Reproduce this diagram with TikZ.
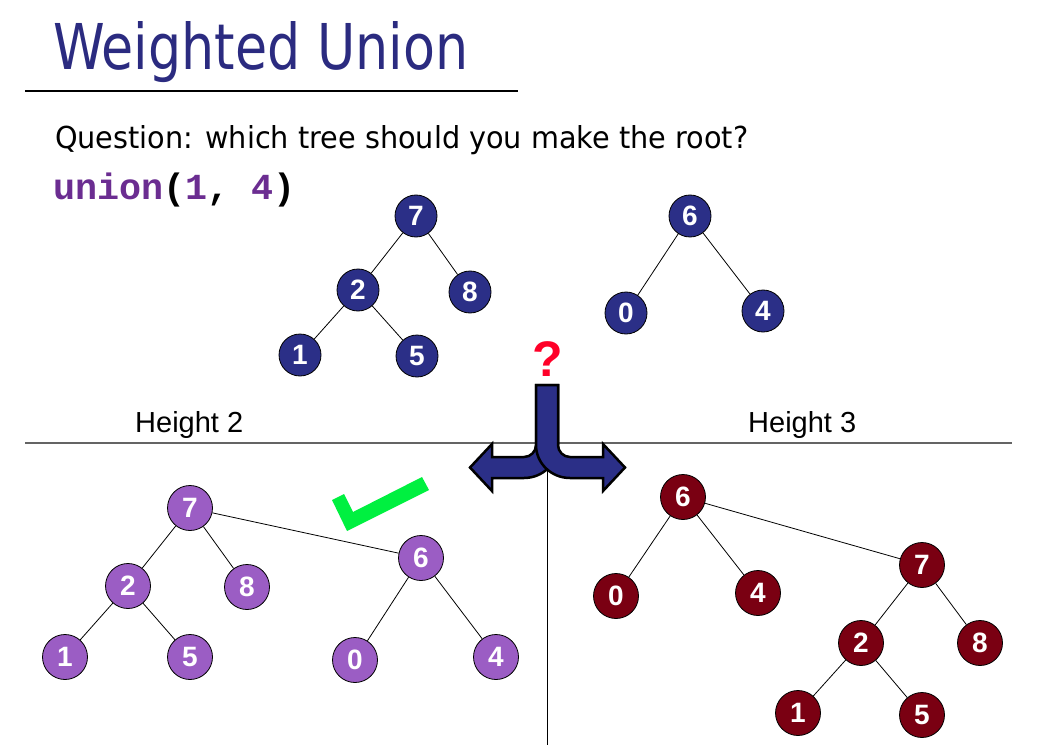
\documentclass[tikz,border=0pt]{standalone}
\usepackage{fontspec}
\setmainfont{Liberation Sans}
\newfontfamily\tahoma{DejaVu Sans}
\newfontfamily\monof{Liberation Mono}
\definecolor{navy}{RGB}{43,47,135}
\definecolor{titlenavy}{RGB}{43,43,128}
\definecolor{lilac}{RGB}{155,93,196}
\definecolor{maroon}{RGB}{122,0,18}
\definecolor{unionpurple}{RGB}{107,45,145}
\definecolor{checkgreen}{RGB}{0,240,64}
\definecolor{qred}{RGB}{255,0,40}
\definecolor{rulegray}{RGB}{100,100,100}
\tikzset{
  tnode/.style={circle,draw=black,line width=0.8pt,inner sep=0pt,minimum size=#1,
    text=white,font=\fontsize{28}{30}\selectfont\bfseries},
  topnode/.style={tnode=42pt,fill=navy},
  purplenode/.style={tnode=45pt,fill=lilac},
  rednode/.style={tnode=45pt,fill=maroon},
  edge/.style={draw=black,line width=0.8pt},
  bigarrow/.style={fill=navy,draw=black,line width=2.5pt,line join=miter}
}
\begin{document}
\begin{tikzpicture}[x=1pt,y=-1pt]
\useasboundingbox (0,0) rectangle (1048,751);
% title
\node[anchor=base west,inner sep=0pt,text=titlenavy] (title) at (53,70)
  {\resizebox{415pt}{48pt}{\tahoma Weighted Union}};
\draw[line width=1.5pt] (25,91) -- (518,91);
\node[anchor=base west,inner sep=0pt] (question) at (55,149)
  {\resizebox{693pt}{23pt}{\tahoma Question: which tree should you make the root?}};
\node[anchor=base west,inner sep=0pt,font=\monof\bfseries\fontsize{36.7}{40}\selectfont] (union) at (53,200)
  {\textcolor{unionpurple}{union}(\textcolor{unionpurple}{1}, \textcolor{unionpurple}{4})};
% separators
\draw[rulegray,line width=1.3pt] (25,443) -- (1012,443);
\coordinate (vtop) at (547,470);
\coordinate (vbot) at (547,745);
\draw[black,line width=1pt] (vtop) -- (vbot);
\node[anchor=base west,inner sep=0pt,font=\fontsize{29}{32}\selectfont] (h2) at (135,432) {Height 2};
\node[anchor=base west,inner sep=0pt,font=\fontsize{29}{32}\selectfont] (h3) at (748,432) {Height 3};
% question mark
\node[anchor=base,inner sep=0pt,text=qred,font=\fontsize{50}{52}\selectfont\bfseries] (qm) at (548,376) {?};
% split arrow: left then right
\draw[bigarrow] (536,385) -- (558,385) -- (558,445)
  arc[start angle=0,end angle=90,x radius=34,y radius=33]
  -- (492,478) -- (492,491) -- (470,467.5) -- (492,444) -- (492,457) -- (524,457)
  arc[start angle=90,end angle=0,radius=12] -- cycle;
\draw[bigarrow] (558,385) -- (536,385) -- (536,445)
  arc[start angle=180,end angle=90,x radius=34,y radius=33]
  -- (603,478) -- (603,491) -- (625,467.5) -- (603,444) -- (603,457) -- (570,457)
  arc[start angle=90,end angle=180,radius=12] -- cycle;
% check mark
\fill[checkgreen] (332,500) -- (344,494) -- (353,512) -- (422,477) -- (429,490) -- (347,531) -- cycle;
% top tree A
\node[topnode] (a7) at (416,216) {7};
\node[topnode] (a2) at (358,290) {2};
\node[topnode] (a8) at (470,292) {8};
\node[topnode] (a1) at (300,355) {1};
\node[topnode] (a5) at (417,356) {5};
\draw[edge] (a7) -- (a2); \draw[edge] (a7) -- (a8);
\draw[edge] (a2) -- (a1); \draw[edge] (a2) -- (a5);
% top tree B
\node[topnode] (b6) at (690,216) {6};
\node[topnode] (b0) at (626,313) {0};
\node[topnode] (b4) at (763,311) {4};
\draw[edge] (b6) -- (b0); \draw[edge] (b6) -- (b4);
% bottom left (purple)
\node[purplenode] (c7) at (190,508) {7};
\node[purplenode] (c2) at (128,586) {2};
\node[purplenode] (c8) at (247,587) {8};
\node[purplenode] (c1) at (65,657) {1};
\node[purplenode] (c5) at (190,657) {5};
\node[purplenode] (c6) at (421,558) {6};
\node[purplenode] (c0) at (355,660) {0};
\node[purplenode] (c4) at (496,657) {4};
\draw[edge] (c7) -- (c2); \draw[edge] (c7) -- (c8);
\draw[edge] (c2) -- (c1); \draw[edge] (c2) -- (c5);
\draw[edge] (c7) -- (c6);
\draw[edge] (c6) -- (c0); \draw[edge] (c6) -- (c4);
% bottom right (red)
\node[rednode] (d6) at (683,497) {6};
\node[rednode] (d0) at (616,596) {0};
\node[rednode] (d4) at (758,593) {4};
\node[rednode] (d7) at (922,565) {7};
\node[rednode] (d2) at (861,643) {2};
\node[rednode] (d8) at (980,643) {8};
\node[rednode] (d1) at (798,713) {1};
\node[rednode] (d5) at (922,715) {5};
\draw[edge] (d6) -- (d0); \draw[edge] (d6) -- (d4);
\draw[edge] (d6) -- (d7);
\draw[edge] (d7) -- (d2); \draw[edge] (d7) -- (d8);
\draw[edge] (d2) -- (d1); \draw[edge] (d2) -- (d5);
\end{tikzpicture}
\end{document}
